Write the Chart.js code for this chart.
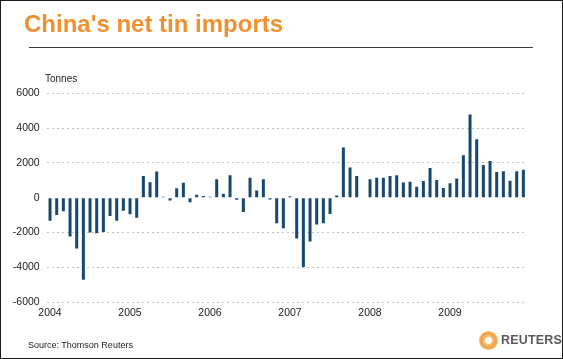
<!DOCTYPE html>
<html>
<head>
<meta charset="utf-8">
<script src="https://cdn.jsdelivr.net/npm/chart.js@4"></script>
<style>
  html, body { margin: 0; padding: 0; background: #fff; }
  #wrap { position: relative; width: 563px; height: 359px; overflow: hidden; background: #fff; font-family: "Liberation Sans", Arial, sans-serif; }
  #chart { position: absolute; left: 0; top: 0; }
  #frame { position: absolute; left: 0; top: 0; width: 563px; height: 359px; box-sizing: border-box; border: 1px solid #1c1c1c; pointer-events: none; }
  #title { position: absolute; left: 24px; top: 10px; font-weight: bold; font-size: 24px; line-height: 28px; color: #EF912F; white-space: nowrap; }
  #rule { position: absolute; left: 29px; top: 47px; width: 504px; height: 1px; background: #3a3a3a; }
  #unit { position: absolute; left: 45px; top: 72px; font-size: 10px; line-height: 14px; color: #222; }
  #source { position: absolute; left: 28px; top: 339px; font-size: 9px; line-height: 12px; color: #222; }
  #logo { position: absolute; left: 479px; top: 331px; width: 19px; height: 19px; border-radius: 50%;
          background: radial-gradient(circle at 50% 50%, #fff 0 22%, #f7c27a 30%, #f0a040 55%, #f6c98e 75%, rgba(255,255,255,0) 80%); }
  #reuters { position: absolute; left: 501px; top: 333px; font-size: 12.5px; line-height: 15px; font-weight: bold; color: #5a5a5a; letter-spacing: 0.2px; }
</style>
</head>
<body>
<div id="wrap">
  <canvas id="chart" width="563" height="359"></canvas>
  <div id="title">China's net tin imports</div>
  <div id="rule"></div>
  <div id="unit">Tonnes</div>
  <div id="source">Source: Thomson Reuters</div>
  <div id="logo"></div>
  <div id="reuters">REUTERS</div>
  <div id="frame"></div>
</div>
<script>
// ---- Data (tonnes, monthly net imports) ----
const years = ['2004', '2005', '2006', '2007', '2008', '2009'];
const imports2004 = [-1330, -1000, -780, -2230, -2930, -4720, -2000, -2050, -1980, -1050, -1330, -750];
const imports2005 = [-950, -1150, 1250, 880, 1510, 50, -170, 540, 860, -260, 170, 100];
const imports2006 = [50, 1060, 220, 1290, -120, -820, 1150, 410, 1060, -100, -1470, -1755];
const imports2007 = [80, -2350, -3990, -2520, -1550, -1470, -935, 125, 2890, 1740, 1245, 30];
const imports2008 = [1060, 1140, 1140, 1245, 1290, 870, 910, 630, 960, 1700, 1015, 555];
const imports2009 = [825, 1100, 2440, 4780, 3355, 1880, 2110, 1480, 1520, 975, 1520, 1605];
const yTicks = [-6000, -4000, -2000, 0, 2000, 4000, 6000];

// ---- Build categories ----
const seriesByYear = [imports2004, imports2005, imports2006, imports2007, imports2008, imports2009];
const categories = [];
const values = [];
years.forEach((y, yi) => {
  seriesByYear[yi].forEach((v, m) => {
    categories.push(y + '-' + String(m + 1).padStart(2, '0'));
    values.push(v);
  });
});

const font = { family: '"Liberation Sans", Arial, sans-serif', size: 10.5 };

new Chart(document.getElementById('chart'), {
  type: 'bar',
  data: {
    labels: categories,
    datasets: [{
      data: values,
      backgroundColor: '#18486e',
      borderWidth: 0,
      barPercentage: 0.45,
      categoryPercentage: 1.0
    }]
  },
  options: {
    responsive: false,
    animation: false,
    events: [],
    layout: { padding: { left: 0, right: 36.3, top: 93.3, bottom: 37 } },
    plugins: { legend: { display: false }, tooltip: { enabled: false } },
    scales: {
      x: {
        type: 'category',
        grid: { display: false, drawTicks: false },
        border: { display: false },
        ticks: {
          autoSkip: false,
          maxRotation: 0,
          minRotation: 0,
          padding: 5,
          color: '#222',
          font: font,
          callback: function (val, idx) {
            return idx % 12 === 0 ? categories[idx].slice(0, 4) : '';
          }
        },
        afterFit: function (s) { s.height = 20; }
      },
      y: {
        min: -6000,
        max: 6000,
        afterBuildTicks: function (s) { s.ticks = yTicks.map(v => ({ value: v })); },
        grid: {
          drawTicks: false,
          color: function (ctx) { return ctx.tick && ctx.tick.value === 0 ? 'rgba(0,0,0,0)' : '#c4c4c4'; },
          lineWidth: 1
        },
        border: { display: false, dash: [2, 3] },
        ticks: {
          padding: 7,
          color: '#222',
          font: font,
          callback: function (v) { return String(v); }
        },
        afterFit: function (s) { s.width = 46.7; }
      }
    }
  }
});
</script>
</body>
</html>
